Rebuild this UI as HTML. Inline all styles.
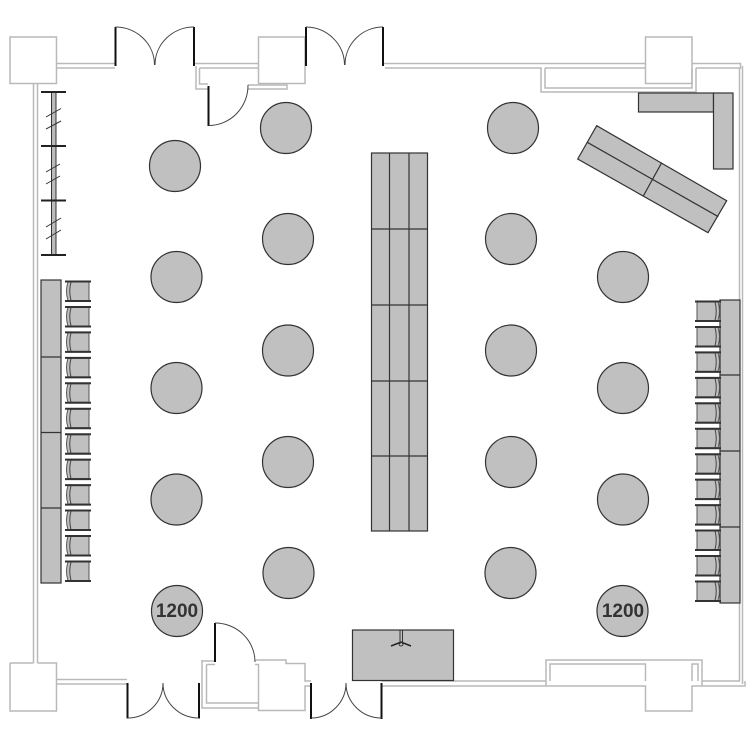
<!DOCTYPE html>
<html>
<head>
<meta charset="utf-8">
<style>
html,body{margin:0;padding:0;background:#fff;width:750px;height:750px;overflow:hidden}
svg{display:block}
.w{fill:none;stroke:#b9b9b9;stroke-width:1.5}
.d{fill:none;stroke:#111;stroke-width:2}
.a{fill:none;stroke:#444;stroke-width:1}
.g{fill:#c0c0c0;stroke:#333;stroke-width:1.2}
.l{fill:none;stroke:#333;stroke-width:1.2}
text{font-family:"Liberation Sans",sans-serif;font-weight:bold;font-size:19px;fill:#333;text-anchor:middle}
</style>
</head>
<body>
<svg width="750" height="750" viewBox="0 0 750 750" xmlns="http://www.w3.org/2000/svg">
<defs>
<g id="cl">
<path d="M3 1H24V19.500H3Q0 10 3 1Z" fill="#c0c0c0" stroke="#555" stroke-width="1"/>
<path d="M6 1Q3.500 10 6 19.500" fill="none" stroke="#444" stroke-width="1"/>
<path d="M0 .5H26M0 20H26" stroke="#333" stroke-width="2" fill="none"/>
</g>
<g id="cr">
<path d="M2 1H23Q26 10 23 19.500H2Z" fill="#c0c0c0" stroke="#555" stroke-width="1"/>
<path d="M20 1Q22.500 10 20 19.500" fill="none" stroke="#444" stroke-width="1"/>
<path d="M0 .5H26M0 20H26" stroke="#333" stroke-width="2" fill="none"/>
</g>
</defs>

<!-- walls -->
<g class="w">
<rect x="10" y="37" width="46.5" height="46.5"/>
<rect x="258.500" y="37" width="46.500" height="46.500"/>
<rect x="645.500" y="37" width="46.500" height="46.500"/>
<path d="M56.500 63.500H115M56.500 68H115"/>
<path d="M33.500 83.500V663M37.500 83.500V663"/>
<path d="M10 663H33.500M37.500 663H56.500V711H10V663"/>
<path d="M56.500 679.500H127M56.500 684H127"/>
<path d="M194 63.500H258.500M199.500 68H258.500"/>
<path d="M196 66V89H208M199.500 68V84H208"/>
<path d="M248 85H287V89H248"/>
<path d="M383 63.500H645.500M385 68H541V92H696V68M545 68H645.500M545 68V88H692V68"/>
<path d="M692 63.500H740.500V68H696M739.500 68V681M742.500 66V684"/>
<path d="M202 661H215M206.500 664.500H215M202 660V708H258.500V664.500H255M206.500 664.500V703H258.500M258.500 703V710.500H305V686H311M255 660H286V663.500H305V681H311"/>
<path d="M381.500 681H546V660H702V681H740M381.500 686H645.500V711H692V686H745V681"/>
<path d="M550 681V664H645.500V681M546 681V686M692 681V664H698V681M702 681V686"/>
</g>

<!-- doors -->
<g class="d">
<path d="M115.500 27V66M194 27V66"/>
<path d="M306 27V66M383 27V66"/>
<path d="M208.500 86V126"/>
<path d="M127.500 683V718.500M199 683V718.500"/>
<path d="M311 683V719M381.500 683V719"/>
<path d="M215 623V662"/>
</g>
<g class="a">
<path d="M115.500 27A39 38 0 0 1 154.500 65M194 27A39 38 0 0 0 155 65M154.800 65V62"/>
<path d="M306 27A39 38 0 0 1 344.500 65M383 27A38 38 0 0 0 345 65"/>
<path d="M208.500 125.500A39.500 40 0 0 0 248 85"/>
<path d="M127.500 718A35.500 35 0 0 0 163 683M199 718A36 35 0 0 1 163 683"/>
<path d="M311 718A35 35 0 0 0 346 683M381.500 718A35.500 35 0 0 1 346 683"/>
<path d="M215 623A40 39 0 0 1 255 662"/>
</g>

<!-- left shelf -->
<rect x="51.500" y="92" width="4.500" height="163" fill="#bbb" stroke="#333" stroke-width="1"/>
<path d="M41 92H66M41 146H66M41 200.500H66M41 255H66" stroke="#222" stroke-width="2" fill="none"/>
<path d="M46 117L61 108.500M46 129L61 121M46 172L60 164M46 184L60 176M46 227L61 218M46 239L61 230" stroke="#333" stroke-width="1" fill="none"/>

<!-- side panels -->
<rect class="g" x="41" y="280" width="20" height="303"/>
<path class="l" d="M41 357H61M41 432.500H61M41 508H61"/>
<rect class="g" x="720" y="300" width="20" height="303"/>
<path class="l" d="M720 375H740M720 451H740M720 527H740"/>

<!-- chairs left -->
<use href="#cl" x="65" y="281"/>
<use href="#cl" x="65" y="306.450"/>
<use href="#cl" x="65" y="331.900"/>
<use href="#cl" x="65" y="357.350"/>
<use href="#cl" x="65" y="382.800"/>
<use href="#cl" x="65" y="408.250"/>
<use href="#cl" x="65" y="433.700"/>
<use href="#cl" x="65" y="459.150"/>
<use href="#cl" x="65" y="484.600"/>
<use href="#cl" x="65" y="510.050"/>
<use href="#cl" x="65" y="535.500"/>
<use href="#cl" x="65" y="561"/>

<!-- chairs right -->
<use href="#cr" x="695" y="301"/>
<use href="#cr" x="695" y="326.450"/>
<use href="#cr" x="695" y="351.900"/>
<use href="#cr" x="695" y="377.350"/>
<use href="#cr" x="695" y="402.800"/>
<use href="#cr" x="695" y="428.250"/>
<use href="#cr" x="695" y="453.700"/>
<use href="#cr" x="695" y="479.150"/>
<use href="#cr" x="695" y="504.600"/>
<use href="#cr" x="695" y="530.050"/>
<use href="#cr" x="695" y="555.500"/>
<use href="#cr" x="695" y="581"/>

<!-- circles -->
<g class="g">
<circle cx="175" cy="166" r="25.500"/>
<circle cx="176.500" cy="277" r="25.500"/>
<circle cx="176.500" cy="388" r="25.500"/>
<circle cx="176.500" cy="499.500" r="25.500"/>
<circle cx="177" cy="611" r="25.500"/>
<circle cx="286" cy="128" r="25.500"/>
<circle cx="288" cy="239" r="25.500"/>
<circle cx="288" cy="350.500" r="25.500"/>
<circle cx="288" cy="462" r="25.500"/>
<circle cx="288.500" cy="573" r="25.500"/>
<circle cx="513" cy="128" r="25.500"/>
<circle cx="511" cy="239" r="25.500"/>
<circle cx="511" cy="350.500" r="25.500"/>
<circle cx="511" cy="462" r="25.500"/>
<circle cx="510.500" cy="573" r="25.500"/>
<circle cx="623" cy="277" r="25.500"/>
<circle cx="623" cy="388" r="25.500"/>
<circle cx="623" cy="499.500" r="25.500"/>
<circle cx="622.500" cy="611" r="25.500"/>
</g>
<text x="177" y="617">1200</text>
<text x="623" y="617">1200</text>

<!-- center tables -->
<rect class="g" x="371.500" y="153" width="56" height="378"/>
<path class="l" d="M389.500 153V531M409 153V531M371.500 229H427.500M371.500 305H427.500M371.500 381H427.500M371.500 456H427.500"/>

<!-- top right -->
<rect class="g" x="638.500" y="93" width="75" height="19"/>
<rect class="g" x="713.500" y="93" width="19.500" height="76"/>
<polygon class="g" points="596.700,125.700 726.700,200.700 708,232.700 577.700,159"/>
<path class="l" d="M587.300 142.300L718.300 216.700M661.700 162.700L643.300 196"/>

<!-- stage -->
<rect class="g" x="352.500" y="630" width="101" height="50.500"/>
<path d="M400 630V644M402.500 630V644" stroke="#333" stroke-width="1" fill="none"/>
<path d="M391 646L401 642L411 646" stroke="#222" stroke-width="1.500" fill="none"/>
<circle cx="401" cy="644" r="2" fill="none" stroke="#333" stroke-width="1"/>
</svg>
</body>
</html>
